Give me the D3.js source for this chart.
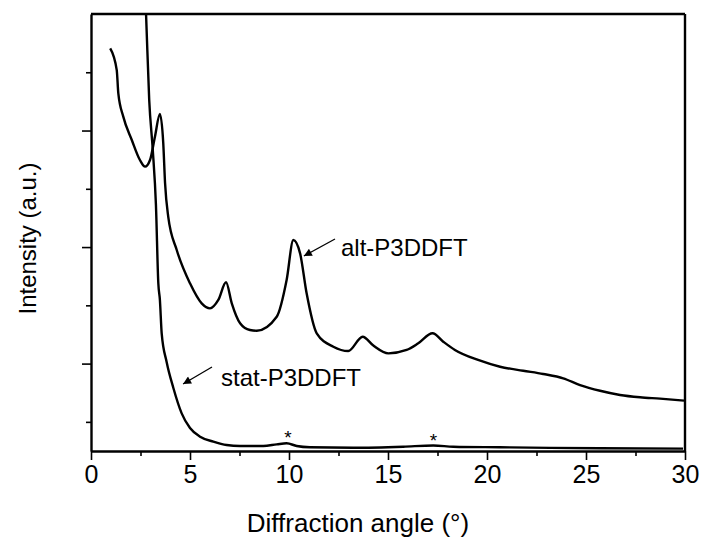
<!DOCTYPE html>
<html>
<head>
<meta charset="utf-8">
<script src="https://cdn.jsdelivr.net/npm/d3@7"></script>
<style>
  html, body { margin: 0; padding: 0; background: #fff; }
  text { font-family: "Liberation Sans", Arial, sans-serif; fill: #000; }
</style>
</head>
<body>
<svg id="chart" width="704" height="547"></svg>
<script>
// ---- data ----
const xTickValues = [0, 5, 10, 15, 20, 25, 30];
const xTickLabels = ["0", "5", "10", "15", "20", "25", "30"];
const xMinorTicks = [2.5, 7.5, 12.5, 17.5, 22.5, 27.5];
const yMajorTicks = [1000, 2000, 3000];
const yMinorTicks = [500, 1500, 2500, 3500];

const altAngle = [0.97, 1.30, 1.38, 1.63, 2.06, 2.47, 2.73, 2.98, 3.23, 3.48, 3.65, 3.74, 3.90, 4.33, 5.00, 5.59, 6.01, 6.43, 6.82, 7.11, 7.53, 8.03, 8.37, 9.38, 9.88, 10.22, 10.56, 10.89, 11.40, 12.24, 12.99, 13.72, 14.26, 15.02, 15.94, 16.53, 17.25, 17.79, 18.38, 19.55, 20.66, 21.83, 22.84, 23.85, 24.70, 25.71, 26.72, 27.73, 28.74, 29.95];
const altIntensity = [3706, 3519, 3319, 3119, 2919, 2747, 2690, 2747, 2947, 3142, 2890, 2550, 2261, 1975, 1689, 1517, 1474, 1546, 1698, 1517, 1346, 1288, 1282, 1402, 1717, 2061, 1946, 1603, 1260, 1145, 1108, 1231, 1155, 1088, 1117, 1174, 1260, 1188, 1117, 1031, 973, 939, 911, 874, 816, 767, 731, 711, 699, 682];

const statAngle = [2.71, 2.78, 2.94, 3.12, 3.28, 3.40, 3.48, 3.57, 3.82, 4.16, 4.58, 5.00, 5.51, 6.18, 6.85, 7.53, 8.70, 9.38, 9.88, 10.39, 11.06, 13.25, 15.77, 17.29, 18.30, 20.66, 23.20, 25.71, 29.90];
const statIntensity = [4290, 4000, 3262, 2833, 2361, 1689, 1546, 1260, 1014, 791, 573, 447, 373, 330, 301, 293, 293, 307, 316, 293, 282, 278, 287, 297, 287, 282, 277, 273, 270];

const seriesLabels = ["alt-P3DDFT", "stat-P3DDFT"];
const markerAngles = [9.95, 17.3];
const markerIntensity = [316, 297];

const xTitle = "Diffraction angle (\u00B0)";
const yTitle = "Intensity (a.u.)";

// ---- layout ----
const svg = d3.select("#chart");
const L = 91, R = 685, T = 14, B = 451;
const x = d3.scaleLinear().domain([0, 30]).range([L, R]);
const y = d3.scaleLinear().domain([250, 4000]).range([B, T]);

svg.append("defs").append("clipPath").attr("id", "clip")
  .append("rect").attr("x", L).attr("y", T).attr("width", R - L).attr("height", B - T);

svg.append("defs").append("marker").attr("id", "arrow")
  .attr("viewBox", "0 0 10 10").attr("refX", 10).attr("refY", 5)
  .attr("markerWidth", 12).attr("markerHeight", 8).attr("markerUnits", "userSpaceOnUse")
  .attr("orient", "auto")
  .append("path").attr("d", "M0,0 L10,5 L0,10 Z").attr("fill", "#000");

// curves
const line = d3.line().x(d => x(d[0])).y(d => y(d[1])).curve(d3.curveMonotoneX);
const g = svg.append("g").attr("clip-path", "url(#clip)");
g.append("path").datum(d3.zip(altAngle, altIntensity))
  .attr("d", line).attr("fill", "none").attr("stroke", "#000").attr("stroke-width", 2.4).attr("stroke-linejoin", "round");
g.append("path").datum(d3.zip(statAngle, statIntensity))
  .attr("d", line).attr("fill", "none").attr("stroke", "#000").attr("stroke-width", 2.4).attr("stroke-linejoin", "round");

// axes
const xAxis = svg.append("g").attr("transform", `translate(0,${B})`)
  .call(d3.axisBottom(x).tickValues(xTickValues).tickFormat((d, i) => xTickLabels[i]).tickSize(9).tickSizeOuter(0));
svg.append("g").attr("transform", `translate(0,${B})`)
  .call(d3.axisBottom(x).tickValues(xMinorTicks).tickFormat("").tickSize(5).tickSizeOuter(0))
  .select(".domain").remove();
svg.append("g").attr("transform", `translate(${L},0)`)
  .call(d3.axisLeft(y).tickValues(yMajorTicks).tickFormat("").tickSize(9).tickSizeOuter(0));
svg.append("g").attr("transform", `translate(${L},0)`)
  .call(d3.axisLeft(y).tickValues(yMinorTicks).tickFormat("").tickSize(5).tickSizeOuter(0))
  .select(".domain").remove();

svg.selectAll(".tick line").attr("stroke", "#000").attr("stroke-width", 1.6);
svg.selectAll(".domain").attr("stroke", "#000").attr("stroke-width", 2.4);
xAxis.selectAll(".tick text").attr("font-size", 25).attr("dy", 0).attr("y", 32)
  .style("font-family", "'Liberation Sans', Arial, sans-serif");

// frame top and right
svg.append("line").attr("x1", L).attr("x2", R).attr("y1", T).attr("y2", T).attr("stroke", "#000").attr("stroke-width", 2.4);
svg.append("line").attr("x1", R).attr("x2", R).attr("y1", T).attr("y2", B).attr("stroke", "#000").attr("stroke-width", 2.4);

// titles
svg.append("text").attr("x", 358).attr("y", 532).attr("text-anchor", "middle")
  .attr("font-size", 26).text(xTitle);
svg.append("text").attr("transform", `translate(36,${(T + B) / 2 + 6}) rotate(-90)`)
  .attr("text-anchor", "middle").attr("font-size", 24).text(yTitle);

// annotations
svg.append("text").attr("x", 341).attr("y", 256).attr("font-size", 24).text(seriesLabels[0]);
svg.append("line").attr("x1", 335).attr("y1", 239).attr("x2", x(10.75)).attr("y2", 256)
  .attr("stroke", "#000").attr("stroke-width", 1.3).attr("marker-end", "url(#arrow)");
svg.append("text").attr("x", 221).attr("y", 386).attr("font-size", 24).text(seriesLabels[1]);
svg.append("line").attr("x1", 212).attr("y1", 367).attr("x2", x(4.65)).attr("y2", 384)
  .attr("stroke", "#000").attr("stroke-width", 1.3).attr("marker-end", "url(#arrow)");

// asterisks
markerAngles.forEach((a, i) => {
  svg.append("text").attr("x", x(a)).attr("y", y(markerIntensity[i]) + 1)
    .attr("text-anchor", "middle").attr("font-size", 19).text("*");
});
</script>
</body>
</html>
